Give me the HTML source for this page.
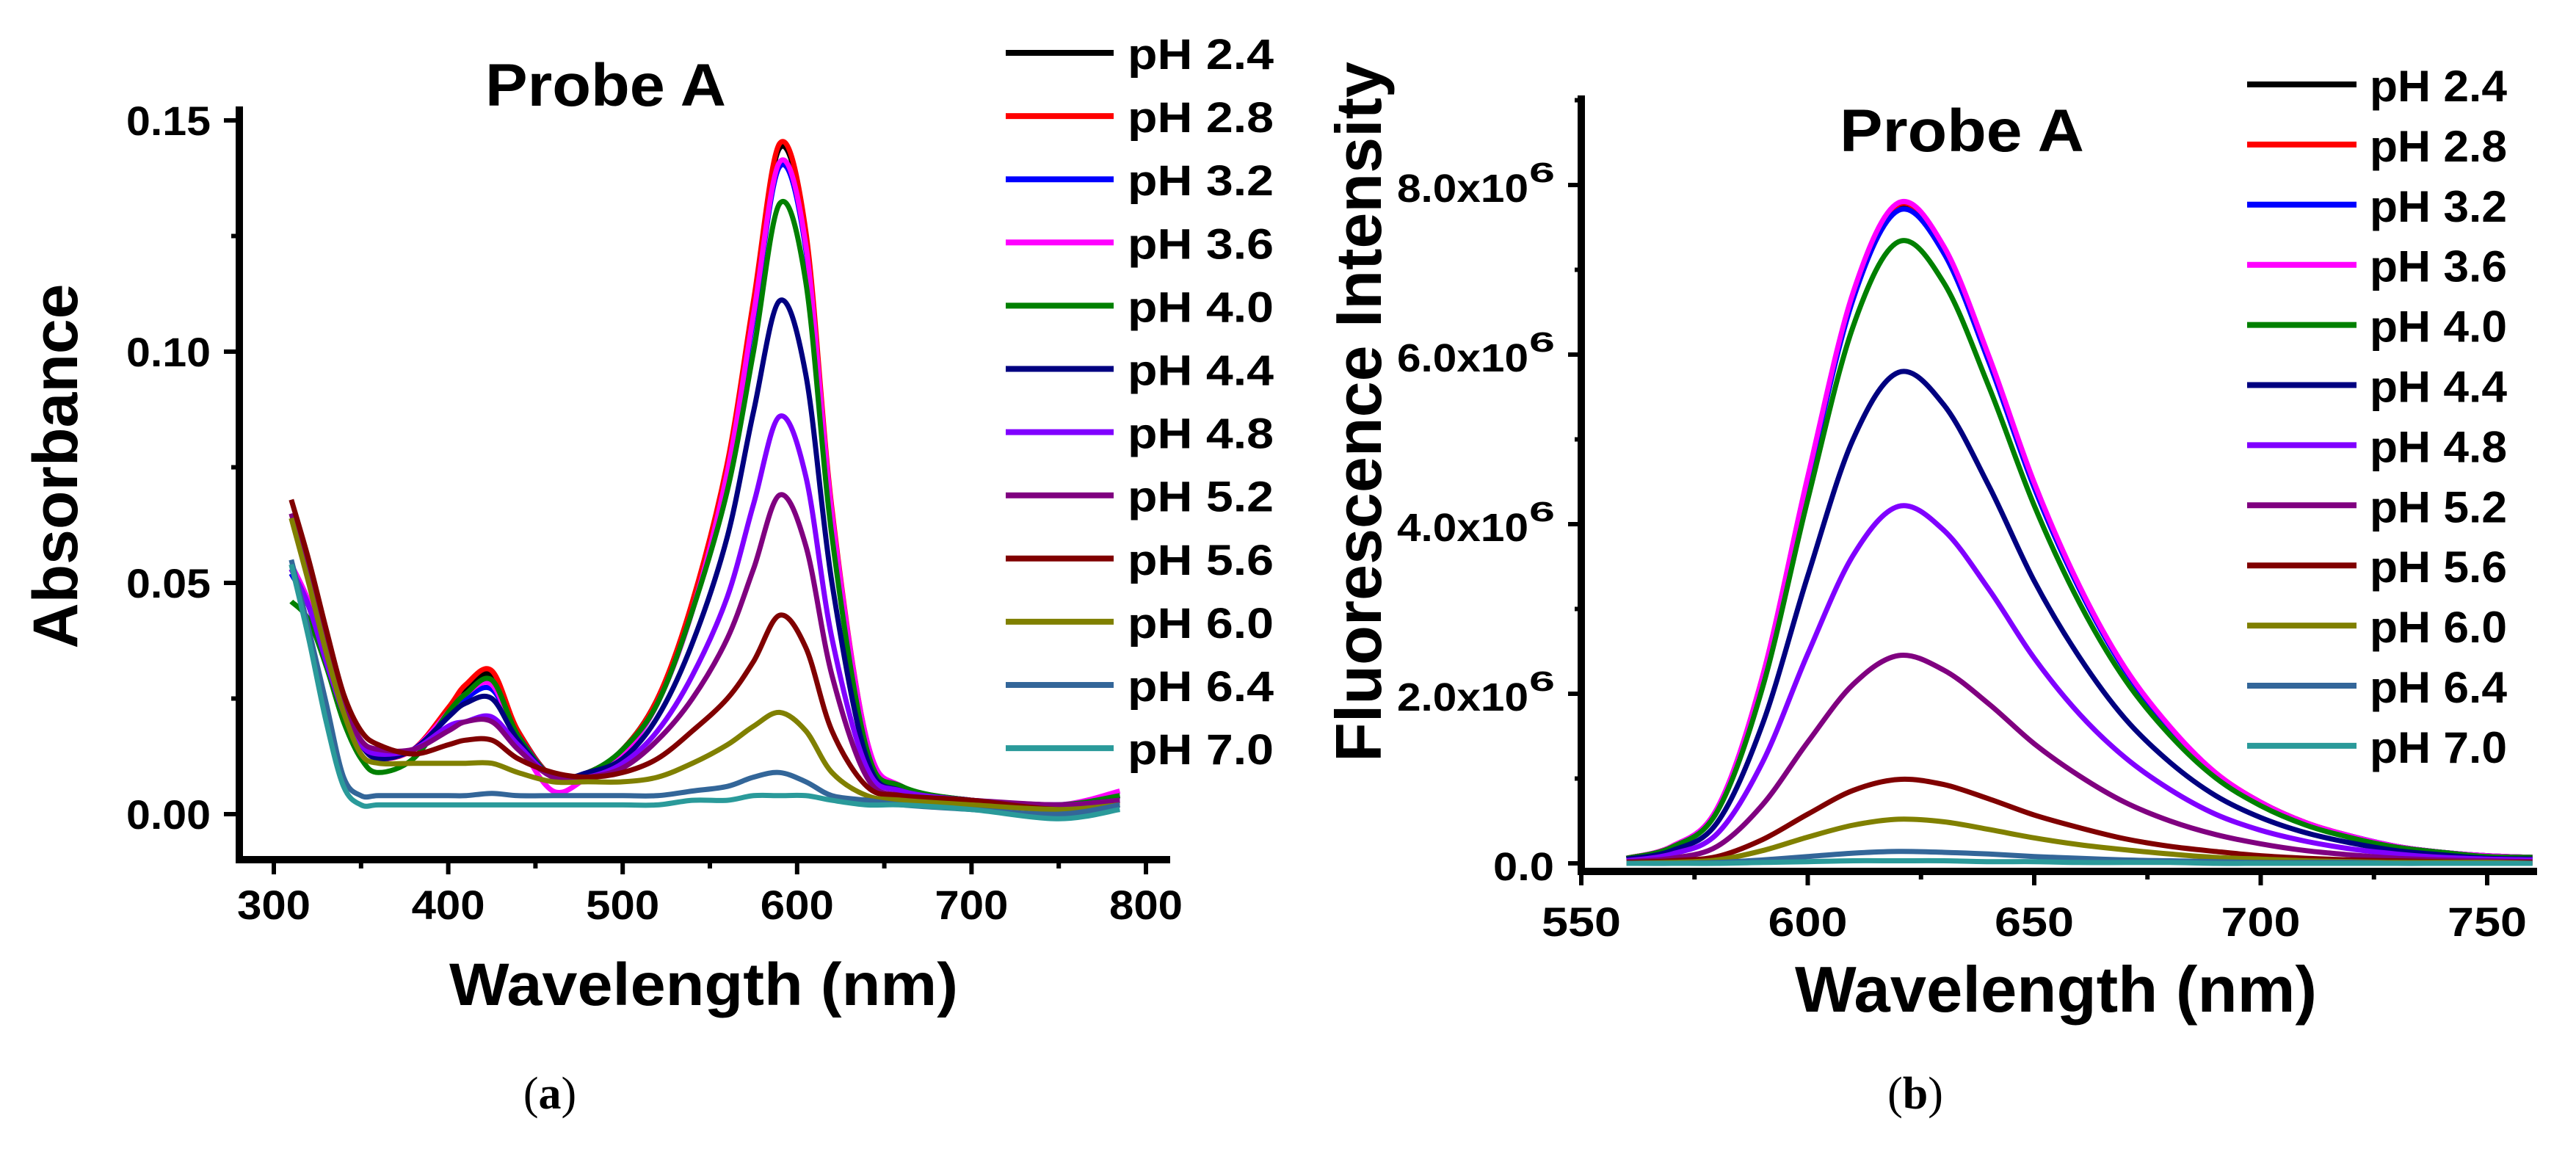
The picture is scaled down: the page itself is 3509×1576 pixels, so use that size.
<!DOCTYPE html>
<html><head><meta charset="utf-8"><style>
html,body{margin:0;padding:0;background:#fff;}
svg{display:block;font-family:"Liberation Sans",Arial,sans-serif;}
</style></head><body>
<svg id="fig" width="3509" height="1576" viewBox="0 0 3509 1576" xmlns="http://www.w3.org/2000/svg">
<rect width="3509" height="1576" fill="#fff"/>
<g id="pa"></g>
<g id="pb"></g>
<text x="749" y="1510" font-family="Liberation Serif,serif" font-size="62" text-anchor="middle">(<tspan font-weight="bold">a</tspan>)</text>
<text x="2609" y="1510" font-family="Liberation Serif,serif" font-size="62" text-anchor="middle">(<tspan font-weight="bold">b</tspan>)</text>
</svg>
<script>
const phLabels=["pH 2.4","pH 2.8","pH 3.2","pH 3.6","pH 4.0","pH 4.4","pH 4.8","pH 5.2","pH 5.6","pH 6.0","pH 6.4","pH 7.0"];
const seriesColors=["#000000","#ff0000","#0000ff","#ff00ff","#008000","#000080","#8000ff","#800080","#800000","#808000","#336699","#2a9a9a"];
// Absorbance
const absWl=[310,320,330,340,350,360,380,400,410,425,440,460,480,500,520,540,560,575,590,605,620,640,660,700,750,785];
const abs24=[0.052,0.045,0.033,0.022,0.015,0.012,0.014,0.022,0.027,0.030,0.018,0.008,0.009,0.014,0.025,0.045,0.075,0.110,0.144,0.125,0.065,0.015,0.006,0.003,0.002,0.004];
const abs28=[0.053,0.045,0.033,0.022,0.015,0.012,0.014,0.023,0.028,0.031,0.018,0.008,0.009,0.014,0.025,0.046,0.076,0.111,0.145,0.126,0.066,0.016,0.006,0.003,0.002,0.004];
const abs32=[0.052,0.045,0.033,0.022,0.015,0.012,0.014,0.021,0.025,0.027,0.017,0.008,0.009,0.013,0.024,0.044,0.073,0.107,0.140,0.122,0.064,0.015,0.006,0.003,0.002,0.004];
const abs36=[0.054,0.046,0.034,0.022,0.015,0.012,0.014,0.022,0.026,0.028,0.016,0.005,0.008,0.013,0.024,0.044,0.074,0.108,0.141,0.123,0.065,0.016,0.006,0.003,0.002,0.005];
const abs40=[0.046,0.042,0.032,0.020,0.012,0.009,0.012,0.022,0.026,0.029,0.017,0.008,0.009,0.014,0.024,0.044,0.070,0.100,0.132,0.115,0.060,0.014,0.006,0.003,0.002,0.004];
const abs44=[0.053,0.045,0.033,0.022,0.015,0.012,0.014,0.021,0.024,0.025,0.016,0.008,0.009,0.012,0.021,0.037,0.060,0.087,0.111,0.095,0.050,0.012,0.005,0.003,0.002,0.003];
const abs48=[0.053,0.045,0.033,0.022,0.015,0.013,0.014,0.019,0.020,0.021,0.015,0.008,0.008,0.011,0.018,0.030,0.047,0.067,0.086,0.073,0.038,0.010,0.005,0.003,0.002,0.003];
const abs52=[0.065,0.052,0.037,0.024,0.016,0.014,0.014,0.018,0.020,0.020,0.014,0.008,0.008,0.010,0.016,0.025,0.038,0.053,0.069,0.058,0.030,0.008,0.004,0.003,0.002,0.003];
const abs56=[0.068,0.055,0.040,0.026,0.018,0.015,0.013,0.015,0.016,0.016,0.012,0.009,0.008,0.009,0.012,0.018,0.025,0.033,0.043,0.036,0.018,0.006,0.004,0.003,0.001,0.002];
const abs60=[0.064,0.050,0.035,0.022,0.013,0.011,0.011,0.011,0.011,0.011,0.009,0.007,0.007,0.007,0.008,0.011,0.015,0.019,0.022,0.018,0.009,0.004,0.003,0.002,0.001,0.002];
const abs64=[0.055,0.040,0.024,0.008,0.004,0.004,0.004,0.004,0.004,0.0045,0.004,0.004,0.004,0.004,0.004,0.005,0.006,0.008,0.009,0.007,0.004,0.003,0.002,0.001,0.000,0.002];
const abs70=[0.054,0.038,0.020,0.006,0.002,0.002,0.002,0.002,0.002,0.002,0.002,0.002,0.002,0.002,0.002,0.003,0.003,0.004,0.004,0.004,0.003,0.002,0.002,0.001,-0.001,0.001];
const absSeries=[abs24,abs28,abs32,abs36,abs40,abs44,abs48,abs52,abs56,abs60,abs64,abs70];
const absXTicks=[300,400,500,600,700,800];
const absYTicks=[0.00,0.05,0.10,0.15];
const absYTickLabels=["0.00","0.05","0.10","0.15"];
// Fluorescence (units of 1e6)
const flWl=[560,570,580,590,600,610,620,630,640,650,660,670,680,690,700,710,720,730,740,750,760];
const fl24=[0.06,0.20,0.64,2.19,4.54,6.69,7.74,7.23,5.94,4.46,3.25,2.29,1.60,1.06,0.72,0.48,0.32,0.20,0.13,0.09,0.07];
const fl28=[0.06,0.20,0.64,2.20,4.55,6.71,7.77,7.26,5.97,4.47,3.26,2.30,1.60,1.07,0.72,0.48,0.32,0.20,0.13,0.09,0.07];
const fl32=[0.06,0.19,0.64,2.18,4.51,6.65,7.70,7.20,5.91,4.43,3.23,2.28,1.59,1.06,0.72,0.47,0.32,0.20,0.13,0.09,0.07];
const fl36=[0.06,0.20,0.65,2.20,4.56,6.73,7.79,7.28,5.98,4.49,3.27,2.31,1.61,1.07,0.72,0.48,0.32,0.20,0.13,0.09,0.07];
const fl40=[0.06,0.19,0.61,2.07,4.29,6.33,7.33,6.85,5.62,4.22,3.07,2.17,1.51,1.01,0.68,0.45,0.30,0.19,0.13,0.08,0.07];
const fl44=[0.05,0.15,0.48,1.64,3.39,5.00,5.79,5.41,4.45,3.33,2.43,1.71,1.19,0.80,0.54,0.36,0.24,0.15,0.10,0.06,0.05];
const fl48=[0.03,0.11,0.35,1.19,2.47,3.63,4.21,3.93,3.23,2.42,1.76,1.25,0.87,0.58,0.39,0.26,0.17,0.11,0.07,0.05,0.04];
const fl52=[0.02,0.06,0.20,0.69,1.43,2.11,2.45,2.28,1.88,1.41,1.03,0.72,0.50,0.34,0.23,0.15,0.10,0.06,0.04,0.03,0.02];
const fl56=[0.01,0.03,0.08,0.28,0.58,0.86,0.99,0.93,0.76,0.57,0.42,0.29,0.20,0.14,0.09,0.06,0.04,0.03,0.02,0.01,0.01];
const fl60=[0.00,0.01,0.04,0.15,0.31,0.45,0.52,0.49,0.40,0.30,0.22,0.16,0.11,0.07,0.05,0.03,0.02,0.01,0.01,0.01,0.00];
const fl64=[0.00,0.00,0.01,0.04,0.08,0.12,0.14,0.13,0.11,0.08,0.06,0.04,0.03,0.02,0.01,0.01,0.01,0,0,0,0];
const fl70=[0,0,0,0.01,0.02,0.03,0.03,0.03,0.02,0.02,0.01,0.01,0.01,0,0,0,0,0,0,0,0];
const flSeries=[fl24,fl28,fl32,fl36,fl40,fl44,fl48,fl52,fl56,fl60,fl64,fl70];
const flXTicks=[550,600,650,700,750];
const flYTicks=[0,2,4,6,8];
const flYTickLabels=["0.0","2.0x10","4.0x10","6.0x10","8.0x10"];

const NS="http://www.w3.org/2000/svg";
function mk(parent,tag,attrs,txt){const e=document.createElementNS(NS,tag);for(const k in attrs)e.setAttribute(k,attrs[k]);if(txt!==undefined)e.textContent=txt;parent.appendChild(e);return e;}
function smooth(pts){let d="M"+pts[0][0].toFixed(1)+","+pts[0][1].toFixed(1);for(let i=0;i<pts.length-1;i++){const p0=pts[i-1]||pts[i],p1=pts[i],p2=pts[i+1],p3=pts[i+2]||p2;const c1x=p1[0]+(p2[0]-p0[0])/6,c1y=p1[1]+(p2[1]-p0[1])/6,c2x=p2[0]-(p3[0]-p1[0])/6,c2y=p2[1]-(p3[1]-p1[1])/6;d+=" C"+c1x.toFixed(1)+","+c1y.toFixed(1)+" "+c2x.toFixed(1)+","+c2y.toFixed(1)+" "+p2[0].toFixed(1)+","+p2[1].toFixed(1);}return d;}
const SA='spacingAndGlyphs';

// Panel A
(function(){
const g=document.getElementById('pa');
const xS=v=>373+(v-300)*2.376, yS=v=>1109-v*6300;
for(let s=0;s<absSeries.length;s++){
 const pts=absWl.map((w,i)=>[xS(w),yS(absSeries[s][i])]);
 const p=mk(g,'path',{d:smooth(pts),fill:'none',stroke:seriesColors[s],'stroke-width':7,'stroke-linejoin':'round'});
 
 
}
const ax=mk(g,'g',{});


mk(ax,'line',{x1:326,y1:145,x2:326,y2:1176,stroke:'#000','stroke-width':10});
mk(ax,'line',{x1:321,y1:1171,x2:1594,y2:1171,stroke:'#000','stroke-width':10});
for(let v=300;v<=800;v+=50){const x=xS(v);const major=v%100===0;mk(ax,'line',{x1:x,y1:1171,x2:x,y2:major?1191:1183,stroke:'#000','stroke-width':6});}
absXTicks.forEach(v=>{const t=mk(ax,'text',{x:xS(v),y:1252,'font-size':56,'font-weight':'bold','text-anchor':'middle',textLength:100,lengthAdjust:SA},String(v));});
for(let k=0;k<=6;k++){const y=yS(k*0.025);const major=k%2===0;mk(ax,'line',{x1:326,y1:y,x2:major?305:315,y2:y,stroke:'#000','stroke-width':6});}
absYTicks.forEach((v,i)=>{const t=mk(ax,'text',{x:287,y:yS(v)+20,'font-size':56,'font-weight':'bold','text-anchor':'end',textLength:115,lengthAdjust:SA},absYTickLabels[i]);});
let t=mk(g,'text',{x:612,y:1369,'font-size':82,'font-weight':'bold',textLength:693,lengthAdjust:SA},'Wavelength (nm)');

t=mk(g,'text',{x:0,y:0,'font-size':86,'font-weight':'bold','text-anchor':'middle',transform:'translate(105,635) rotate(-90)'},'Absorbance');

t=mk(g,'text',{x:661,y:144,'font-size':82,'font-weight':'bold',textLength:328,lengthAdjust:SA},'Probe A');

for(let s=0;s<phLabels.length;s++){const y=72+s*86.1;
 const le=mk(g,'g',{});
 mk(le,'line',{x1:1370,y1:y,x2:1517,y2:y,stroke:seriesColors[s],'stroke-width':8});
 mk(le,'text',{x:1536,y:y+22,'font-size':58,'font-weight':'bold',textLength:199,lengthAdjust:SA},phLabels[s]);}
})();

// Panel B
(function(){
const g=document.getElementById('pb');
const xS=v=>2154+(v-550)*6.17, yS=v=>1176-v*115.5;
for(let s=0;s<flSeries.length;s++){
 const pts=flWl.map((w,i)=>[xS(w),yS(flSeries[s][i])]);
 const p=mk(g,'path',{d:smooth(pts),fill:'none',stroke:seriesColors[s],'stroke-width':7,'stroke-linejoin':'round'});
 
 
}
const ax=mk(g,'g',{});


mk(ax,'line',{x1:2154,y1:130,x2:2154,y2:1192,stroke:'#000','stroke-width':10});
mk(ax,'line',{x1:2149,y1:1187,x2:3456,y2:1187,stroke:'#000','stroke-width':10});
for(let v=550;v<=760;v+=25){const x=xS(v);const major=v%50===0;mk(ax,'line',{x1:x,y1:1187,x2:x,y2:major?1206:1198,stroke:'#000','stroke-width':6});}
flXTicks.forEach(v=>{const t=mk(ax,'text',{x:xS(v),y:1275,'font-size':56,'font-weight':'bold','text-anchor':'middle',textLength:108,lengthAdjust:SA},String(v));});
for(let v=0;v<=9;v+=1){const y=yS(v);const major=v%2===0;mk(ax,'line',{x1:2154,y1:y,x2:major?2136:2145,y2:y,stroke:'#000','stroke-width':6});}
flYTicks.forEach((v,i)=>{const t=mk(ax,'text',{x:v===0?2117:2082,y:yS(v)+23,'font-size':54,'font-weight':'bold','text-anchor':'end',textLength:v===0?83:179,lengthAdjust:SA},flYTickLabels[i]);
 if(v!==0){const sp=mk(ax,'text',{x:2083,y:yS(v)-4,'font-size':38,'font-weight':'bold',textLength:35,lengthAdjust:SA},'6');}});
let t=mk(g,'text',{x:2445,y:1378,'font-size':88,'font-weight':'bold',textLength:711,lengthAdjust:SA},'Wavelength (nm)');

t=mk(g,'text',{x:0,y:0,'font-size':88,'font-weight':'bold','text-anchor':'middle',transform:'translate(1881,561) rotate(-90)'},'Fluorescence Intensity');

t=mk(g,'text',{x:2506,y:206,'font-size':82,'font-weight':'bold',textLength:333,lengthAdjust:SA},'Probe A');

for(let s=0;s<phLabels.length;s++){const y=115+s*81.9;
 const le=mk(g,'g',{});
 mk(le,'line',{x1:3061,y1:y,x2:3210,y2:y,stroke:seriesColors[s],'stroke-width':8});
 mk(le,'text',{x:3228,y:y+23,'font-size':60,'font-weight':'bold',textLength:187,lengthAdjust:SA},phLabels[s]);}
})();
</script>
</body></html>
